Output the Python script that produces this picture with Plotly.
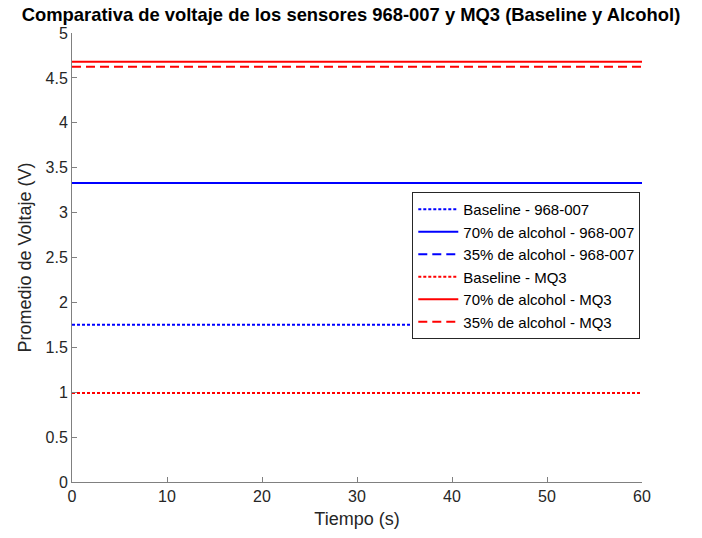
import plotly.graph_objects as go

tiempo = [0, 60]

baseline_968 = [1.75, 1.75]
alcohol70_968 = [3.33, 3.33]
alcohol35_968 = [3.33, 3.33]
baseline_mq3 = [0.99, 0.99]
alcohol70_mq3 = [4.68, 4.68]
alcohol35_mq3 = [4.625, 4.625]

series_names = [
    "Baseline - 968-007",
    "70% de alcohol - 968-007",
    "35% de alcohol - 968-007",
    "Baseline - MQ3",
    "70% de alcohol - MQ3",
    "35% de alcohol - MQ3",
]
series_values = [baseline_968, alcohol70_968, alcohol35_968,
                 baseline_mq3, alcohol70_mq3, alcohol35_mq3]
colors = ["#0000FF"] * 3 + ["#FF0000"] * 3
dashes = ["3px,2px", "solid", "9px,5px", "3px,2px", "solid", "9px,5px"]

x_ticks = [0, 10, 20, 30, 40, 50, 60]
y_ticks = [0, 0.5, 1, 1.5, 2, 2.5, 3, 3.5, 4, 4.5, 5]

fig = go.Figure()
for name, vals, c, d in zip(series_names, series_values, colors, dashes):
    fig.add_trace(go.Scatter(x=tiempo, y=vals, mode="lines", name=name,
                             line=dict(color=c, dash=d, width=2)))

axis_color = "#808080"
fig.update_layout(
    width=702, height=538,
    margin=dict(l=72, r=60, t=33, b=56),
    paper_bgcolor="white", plot_bgcolor="white",
    font=dict(family="Liberation Sans, Arial", size=16, color="#262626"),
    title=dict(text="<b>Comparativa de voltaje de los sensores 968-007 y MQ3 (Baseline y Alcohol)</b>",
               x=0.5, xanchor="center", y=1 - 15 / 538, yanchor="middle",
               font=dict(size=18.4, color="black", family="Liberation Sans, Arial")),
    showlegend=True,
    legend=dict(x=0.997, xanchor="right", y=0.646, yanchor="top",
                bgcolor="white", bordercolor="#262626", borderwidth=1,
                font=dict(size=15, color="black"), tracegroupgap=0,
                itemwidth=40),
)
fig.update_xaxes(
    range=[0, 60], tickvals=x_ticks, showgrid=False, zeroline=False,
    showline=True, linecolor=axis_color, linewidth=1,
    ticks="inside", ticklen=5, tickcolor=axis_color,
    tickfont=dict(size=16, color="#262626"),
    title=dict(text="Tiempo (s)", font=dict(size=18, color="#262626"), standoff=8),
)
fig.update_yaxes(
    range=[0, 5], tickvals=y_ticks, ticktext=[f"{v:g}" for v in y_ticks],
    showgrid=False, zeroline=False,
    showline=True, linecolor=axis_color, linewidth=1,
    ticks="inside", ticklen=5, tickcolor=axis_color,
    tickfont=dict(size=16, color="#262626"),
    title=dict(text="Promedio de Voltaje (V)", font=dict(size=18, color="#262626"), standoff=9),
)

fig.write_html("out.html")
